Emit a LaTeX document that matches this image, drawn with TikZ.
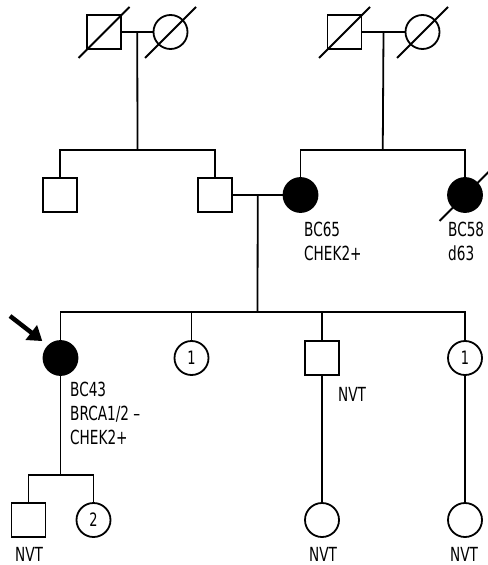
\documentclass[tikz,border=0pt]{standalone}
\usepackage{fontspec}
\setmainfont{DejaVu Sans Condensed}[FakeStretch=0.78]
\usetikzlibrary{arrows.meta, calc}

\begin{document}
\begin{tikzpicture}[x=1bp, y=-1bp,
          male/.style={rectangle, draw, line width=1.8bp, minimum size=34bp,
                       inner sep=0pt, fill=white},
          female/.style={circle, draw, line width=1.8bp, minimum size=34bp,
                         inner sep=0pt, fill=white, font=\fontsize{18.5}{19}\selectfont},
          aff/.style={fill=black},
          link/.style={line width=1.8bp},
          note/.style={align=left, inner sep=0pt, font=\fontsize{19.5}{24}\selectfont},
          pointer/.style={-{Triangle[length=14bp, width=18bp]}, line width=4.5bp}
        ]
        \useasboundingbox (0,0) rectangle (488,565);

        % grandparents
        \node[male]   (gfa) at (104, 32) {};
        \node[female] (gma) at (170.5, 32) {};
        \node[male]   (gfb) at (344.5, 32) {};
        \node[female] (gmb) at (422.5, 32) {};

        % parents' generation
        \node[male]        (uncle) at (60, 195) {};
        \node[male]        (dad)   at (215, 195) {};
        \node[female, aff] (mum)   at (300.5, 195) {};
        \node[female, aff] (aunt)  at (465, 195) {};

        % proband and siblings
        \node[female, aff] (prob)  at (60.5, 358) {};
        \node[female]      (sisa)  at (191.5, 358) {1};
        \node[male]        (bro)   at (322, 358) {};
        \node[female]      (sisb)  at (465, 358) {1};

        % next generation
        \node[male]   (son)   at (28.5, 520) {};
        \node[female] (dau)   at (93.5, 520) {2};
        \node[female] (niece) at (322, 520) {};
        \node[female] (nieb)  at (465, 520) {};

        \coordinate (mara) at ($(gfa.east)!0.5!(gma.west)$);
        \coordinate (marb) at ($(gfb.east)!0.5!(gmb.west)$);
        \coordinate (marc) at ($(dad.east)!0.5!(mum.west)$);
        \coordinate (siba) at (137.5, 150);
        \coordinate (sibb) at (382.75, 150);
        \coordinate (sibc) at (257.5, 312);
        \coordinate (sibd) at (60.5, 475);
        \coordinate (tail) at (10, 316);

        \draw[link] (gfa) -- (gma);
        \draw[link] (gfb) -- (gmb);
        \draw[link] (dad) -- (mum);
        \draw[link] (mara) -- (siba);
        \draw[link] (marb) -- (sibb);
        \draw[link] (marc) -- (sibc);
        \draw[link] (uncle.north) |- (siba) -| (dad.north);
        \draw[link] (mum.north) |- (sibb) -| (aunt.north);
        \draw[link] (prob.north) |- (sibc) -| (sisb.north);
        \draw[link] (sisa.north) -- (sisa.north |- sibc);
        \draw[link] (bro.north) -- (bro.north |- sibc);
        \draw[link] (prob) -- (sibd);
        \draw[link] (son.north) |- (sibd) -| (dau.north);
        \draw[link] (bro) -- (niece);
        \draw[link] (sisb) -- (nieb);

        % deceased
        \foreach \n in {gfa, gma, gfb, gmb, aunt}
          \draw[link] ([shift={(-25.5,26)}]\n.center) -- ([shift={(25.5,-25)}]\n.center);

        \draw[pointer, shorten >=7bp] (tail) -- (prob.135);

        \node[note, anchor=north west] (lmum)  at (304, 222) {BC65\\CHEK2+};
        \node[note, anchor=north west] (launt) at (448, 222) {BC58\\d63};
        \node[note, anchor=north west] (lprob) at (70, 382) {BC43\\BRCA1/2 –\\CHEK2+};
        \node[note, anchor=north west] (lbro)  at (338, 387) {NVT};
        \node[note, anchor=north] (lson)   at (29, 547) {NVT};
        \node[note, anchor=north] (lniece) at (323, 547) {NVT};
        \node[note, anchor=north] (lnieb)  at (464, 547) {NVT};
      \end{tikzpicture}
\end{document}
